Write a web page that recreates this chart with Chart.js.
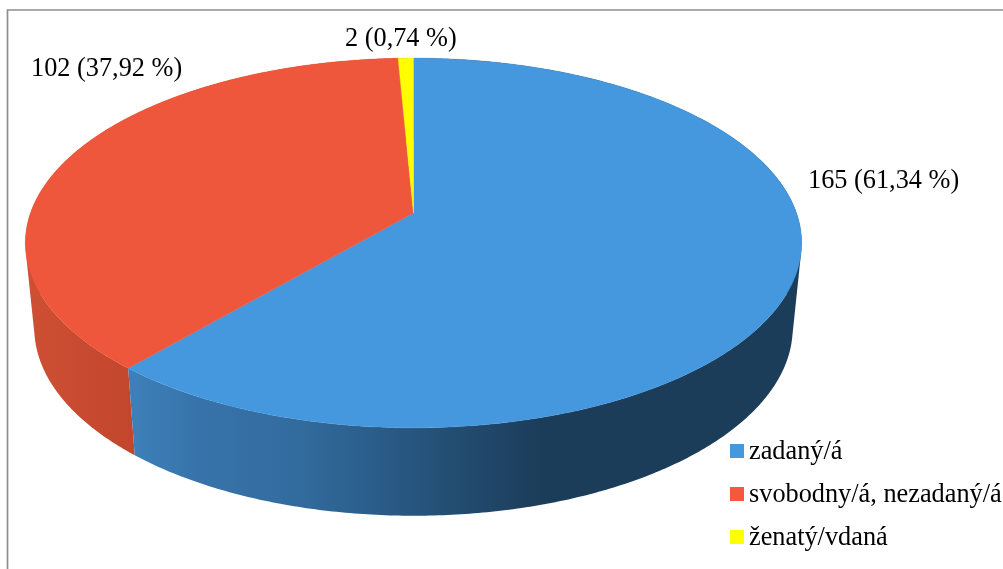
<!DOCTYPE html>
<html>
<head>
<meta charset="utf-8">
<style>html,body{margin:0;padding:0;background:#fff;overflow:hidden}canvas{display:block}</style>
<script src="https://cdn.jsdelivr.net/npm/chart.js@4"></script>
</head>
<body>
<canvas id="c" width="1003" height="569"></canvas>
<script>
const categories = ['zadaný/á', 'svobodny/á, nezadaný/á', 'ženatý/vdaná'];
const values = [165, 102, 2];
const topColors = ['#4598dd', '#ee573c', '#ffff00'];
const legendColors = ['#4598dd', '#f4583f', '#ffff00'];
const dataLabels = values.map(v => {
  const total = values.reduce((a, b) => a + b, 0);
  return v + ' (' + (v / total * 100).toFixed(2).replace('.', ',') + ' %)';
});

// Appearance of the tilted 3D disc (a perspective view of the pie's unit circle)
const view = { cx: 413.5, cy: 213, f: 383, d: 180, e: 0.162,
  sx: 0.977, sy: 1.016, midY: 243, bottomMidY: 328 };
const labelPos = [[808, 188], [31, 76], [345, 46]];
const FONT = '26.3px "Liberation Serif"';

function topPoint(a) {
  const u = Math.cos(a), v = Math.sin(a), w = 1 - view.e * v;
  return [view.cx + view.f * u / w, view.cy + view.d * v / w];
}
function lowPoint(a) {
  const p = topPoint(a);
  return [view.cx + view.sx * (p[0] - view.cx), view.bottomMidY + view.sy * (p[1] - view.midY)];
}
function sidePath(ctx, a0, a1) {
  const n = Math.max(2, Math.ceil((a1 - a0) / 0.01));
  ctx.beginPath();
  for (let i = 0; i < n; i++) {
    const s = a0 + (a1 - a0) * i / n, t = a0 + (a1 - a0) * (i + 1) / n;
    let q = [topPoint(s), topPoint(t), lowPoint(t), lowPoint(s)];
    let area = 0;
    for (let k = 0; k < 4; k++) {
      const m = q[k], o = q[(k + 1) % 4];
      area += m[0] * o[1] - o[0] * m[1];
    }
    if (area < 0) q = q.reverse();
    ctx.moveTo(q[0][0], q[0][1]);
    for (let k = 1; k < 4; k++) ctx.lineTo(q[k][0], q[k][1]);
    ctx.closePath();
  }
}
function sideFill(ctx, index) {
  const g = ctx.createLinearGradient(20, 0, 810, 0);
  if (index === 0) {
    const stops = [[0, '#4a90cc'], [0.144, '#3d7fb8'], [0.228, '#3773aa'], [0.354, '#326b9e'],
      [0.481, '#285882'], [0.544, '#234e73'], [0.608, '#1f4465'], [0.658, '#1c3d5a'], [1, '#1c3d5a']];
    stops.forEach(s => g.addColorStop(s[0], s[1]));
  } else {
    g.addColorStop(0, '#cf5034');
    g.addColorStop(0.145, '#c2462d');
    g.addColorStop(1, '#a83a25');
  }
  return g;
}

const pie3d = {
  id: 'pie3d',
  beforeDatasetsDraw(chart) {
    const ctx = chart.ctx, arcs = chart.getDatasetMeta(0).data;
    ctx.save();
    // side walls
    [2, 1, 0].forEach(i => {
      sidePath(ctx, arcs[i].startAngle, arcs[i].endAngle);
      ctx.fillStyle = sideFill(ctx, i);
      ctx.fill('nonzero');
    });
    // top faces
    [0, 1, 2].forEach(i => {
      const a0 = arcs[i].startAngle, a1 = arcs[i].endAngle;
      const n = Math.max(4, Math.ceil((a1 - a0) / 0.005));
      ctx.beginPath();
      ctx.moveTo(view.cx, view.cy);
      for (let k = 0; k <= n; k++) {
        const p = topPoint(a0 + (a1 - a0) * k / n);
        ctx.lineTo(p[0], p[1]);
      }
      ctx.closePath();
      ctx.fillStyle = topColors[i];
      ctx.strokeStyle = topColors[i];
      ctx.lineWidth = 0.4;
      ctx.fill();
      ctx.stroke();
    });
    ctx.restore();
    return false;
  },
  afterDraw(chart) {
    const ctx = chart.ctx;
    ctx.save();
    ctx.strokeStyle = '#8e8e8e';
    ctx.lineWidth = 1.7;
    ctx.beginPath();
    ctx.moveTo(7.5, 569);
    ctx.lineTo(7.5, 10);
    ctx.lineTo(1003, 10);
    ctx.stroke();
    ctx.fillStyle = '#000';
    ctx.font = FONT;
    ctx.textBaseline = 'alphabetic';
    dataLabels.forEach((t, i) => ctx.fillText(t, labelPos[i][0], labelPos[i][1]));
    categories.forEach((t, i) => {
      const y = 444 + 43 * i;
      ctx.fillStyle = legendColors[i];
      ctx.fillRect(730, y, 14, 14);
      ctx.fillStyle = '#000';
      ctx.fillText(t, 749, y + 15);
    });
    ctx.restore();
  }
};

new Chart(document.getElementById('c'), {
  type: 'pie',
  data: { labels: categories, datasets: [{ data: values, backgroundColor: topColors, borderWidth: 0 }] },
  options: {
    responsive: false,
    animation: false,
    devicePixelRatio: 1,
    plugins: { legend: { display: false }, tooltip: { enabled: false }, title: { display: false } }
  },
  plugins: [pie3d]
});
</script>
</body>
</html>
